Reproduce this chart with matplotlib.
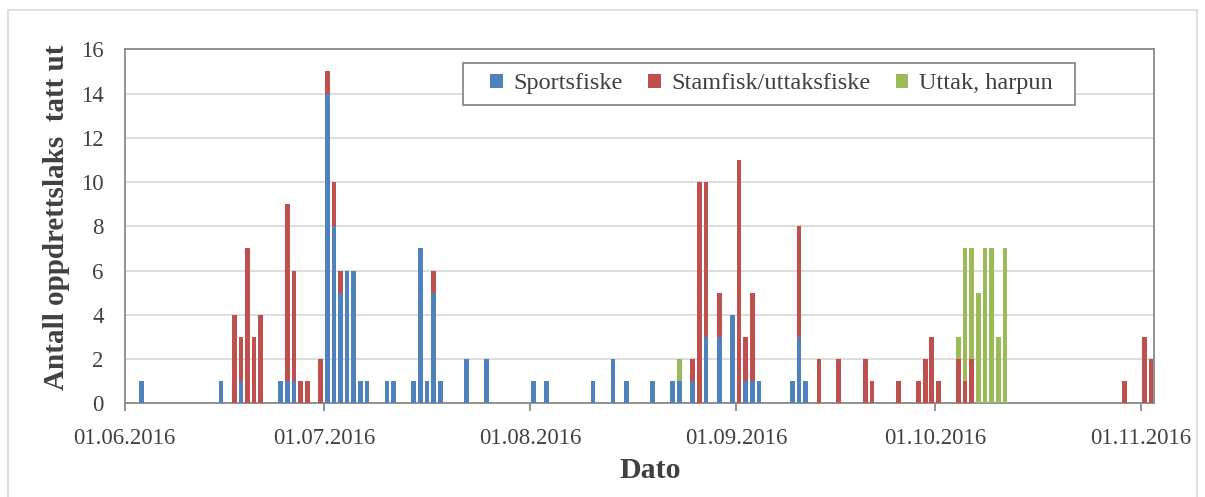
import matplotlib.pyplot as plt
import matplotlib.dates as mdates
import pandas as pd
from matplotlib.patches import Rectangle

plt.switch_backend('agg')

# dates (dd.mm.yyyy) with catches per category
dates = [
    '03.06.2016', '15.06.2016', '17.06.2016', '18.06.2016', '19.06.2016', '20.06.2016',
    '21.06.2016', '24.06.2016', '25.06.2016', '26.06.2016', '27.06.2016', '28.06.2016',
    '30.06.2016', '01.07.2016', '02.07.2016', '03.07.2016', '04.07.2016', '05.07.2016',
    '06.07.2016', '07.07.2016', '10.07.2016', '11.07.2016', '14.07.2016', '15.07.2016',
    '16.07.2016', '17.07.2016', '18.07.2016', '22.07.2016', '25.07.2016', '01.08.2016',
    '03.08.2016', '10.08.2016', '13.08.2016', '15.08.2016', '19.08.2016', '22.08.2016',
    '23.08.2016', '25.08.2016', '26.08.2016', '27.08.2016', '29.08.2016', '31.08.2016',
    '01.09.2016', '02.09.2016', '03.09.2016', '04.09.2016', '09.09.2016', '10.09.2016',
    '11.09.2016', '13.09.2016', '16.09.2016', '20.09.2016', '21.09.2016', '25.09.2016',
    '28.09.2016', '29.09.2016', '30.09.2016', '01.10.2016', '04.10.2016', '05.10.2016',
    '06.10.2016', '07.10.2016', '08.10.2016', '09.10.2016', '10.10.2016', '11.10.2016',
    '29.10.2016', '01.11.2016', '02.11.2016',
]
sportsfiske = [
    1, 1, 0, 1, 0, 0,
    0, 1, 1, 1, 0, 0,
    0, 14, 8, 5, 6, 6,
    1, 1, 1, 1, 1, 7,
    1, 5, 1, 2, 2, 1,
    1, 1, 2, 1, 1, 1,
    1, 1, 0, 3, 3, 4,
    0, 1, 1, 1, 1, 3,
    1, 0, 0, 0, 0, 0,
    0, 0, 0, 0, 0, 0,
    0, 0, 0, 0, 0, 0,
    0, 0, 0,
]
stamfisk = [
    0, 0, 4, 2, 7, 3,
    4, 0, 8, 5, 1, 1,
    2, 1, 2, 1, 0, 0,
    0, 0, 0, 0, 0, 0,
    0, 1, 0, 0, 0, 0,
    0, 0, 0, 0, 0, 0,
    0, 1, 10, 7, 2, 0,
    11, 2, 4, 0, 0, 5,
    0, 2, 2, 2, 1, 1,
    1, 2, 3, 1, 2, 1,
    2, 0, 0, 0, 0, 0,
    1, 3, 2,
]
harpun = [
    0, 0, 0, 0, 0, 0,
    0, 0, 0, 0, 0, 0,
    0, 0, 0, 0, 0, 0,
    0, 0, 0, 0, 0, 0,
    0, 0, 0, 0, 0, 0,
    0, 0, 0, 0, 0, 0,
    1, 0, 0, 0, 0, 0,
    0, 0, 0, 0, 0, 0,
    0, 0, 0, 0, 0, 0,
    0, 0, 0, 0, 1, 6,
    5, 5, 7, 7, 3, 7,
    0, 0, 0,
]
labels = ['Sportsfiske', 'Stamfisk/uttaksfiske', 'Uttak, harpun']
colors = ['#4F81BD', '#C0504D', '#9BBB59']
x_start, x_end = '01.06.2016', '03.11.2016'

plt.rcParams['font.family'] = ['Liberation Serif', 'DejaVu Serif']

df = pd.DataFrame({'dato': pd.to_datetime(dates, format='%d.%m.%Y'),
                   'sport': sportsfiske, 'stam': stamfisk, 'harpun': harpun})
x = mdates.date2num(df['dato'])
width = 0.7

fig = plt.figure(figsize=(12.05, 4.97), dpi=100)
ax = fig.add_axes([0.1034, 0.1885, 0.8546, 0.7123])

bottom = df['sport'] * 0
for col, lab, c in zip(['sport', 'stam', 'harpun'], labels, colors):
    ax.bar(x + (1 - width) / 2, df[col], width=width, bottom=bottom, align='edge',
           color=c, label=lab, zorder=3)
    bottom = bottom + df[col]

ax.set_xlim(mdates.date2num(pd.to_datetime(x_start, format='%d.%m.%Y')),
            mdates.date2num(pd.to_datetime(x_end, format='%d.%m.%Y')))
ax.set_ylim(0, 16)
ax.set_yticks(range(0, 17, 2))
ax.xaxis.set_major_locator(mdates.MonthLocator())
ax.xaxis.set_major_formatter(mdates.DateFormatter('%d.%m.%Y'))

ax.grid(axis='y', color='#d9d9d9', linewidth=1.3, zorder=0)
for s in ax.spines.values():
    s.set_color('#898989')
    s.set_linewidth(1.3)
ax.tick_params(axis='x', length=6, width=1.3, color='#898989', labelsize=16.5, pad=12,
               labelcolor='#404040')
ax.tick_params(axis='y', length=0, labelsize=16.5, pad=15, labelcolor='#404040')

ax.set_xlabel('Dato', fontsize=21.5, fontweight='bold', color='#404040')
ax.xaxis.set_label_coords(0.51, -0.152)
ax.set_ylabel('Antall oppdrettslaks  tatt ut', fontsize=21, fontweight='bold',
              color='#404040')
ax.yaxis.set_label_coords(-0.053, 0.525)

# legend box drawn separately so the padding matches
ax.add_patch(Rectangle((0.3286, 0.8427), 0.5944, 0.1186, transform=ax.transAxes,
                       facecolor='white', edgecolor='#898989', linewidth=1.3, zorder=5))
leg = ax.legend(loc='center', bbox_to_anchor=(0.6285, 0.902), ncol=3,
                fontsize=17.5, frameon=False,
                handlelength=0.5, handleheight=0.5, handletextpad=0.45,
                columnspacing=1.05, labelcolor='#404040')
leg.set_zorder(6)

fig.patches.append(Rectangle((8 / 1205, -0.05), 1189 / 1205, 1.05 - 10 / 497,
                             transform=fig.transFigure, fill=False,
                             edgecolor='#d9d9d9', linewidth=1.2))

fig.savefig('out.png', dpi=100)
